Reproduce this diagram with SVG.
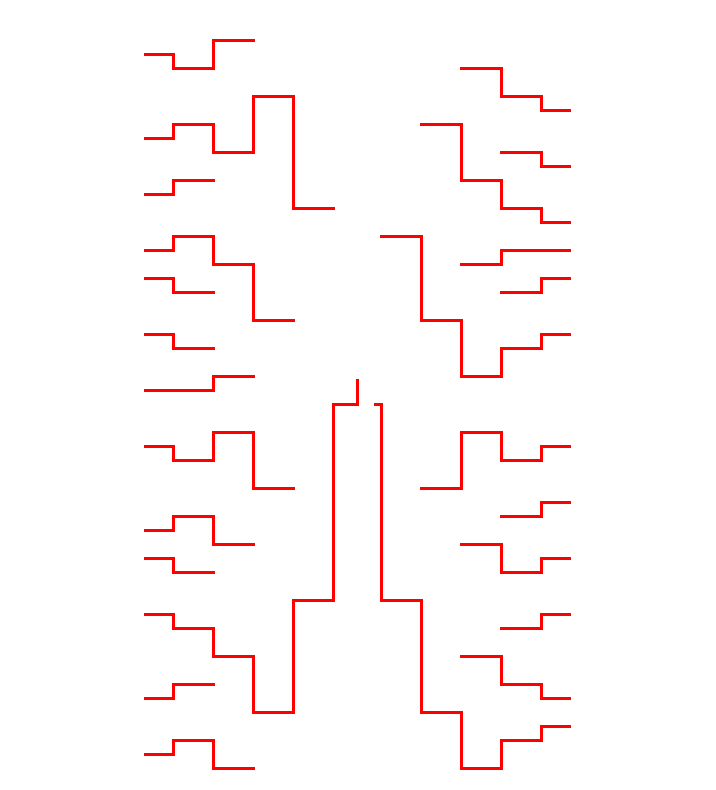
<svg xmlns="http://www.w3.org/2000/svg" width="716" height="790" viewBox="0 0 716 790">
<style>
.e{fill:none;stroke:#ff0000;stroke-width:3;stroke-linejoin:miter;stroke-linecap:butt}
</style>
<rect width="716" height="790" fill="#ffffff"/>
<g id="connectors">
<g id="left">
<path class="e" d="M144 54.5 H173.5 V68.5 H213.5 V40.5 H255"/>
<path class="e" d="M144 138.5 H173.5 V124.5 H213.5 V152.5 H253.5 V96.5 H293.5 V208.5 H335"/>
<path class="e" d="M144 194.5 H173.5 V180.5 H215"/>
<path class="e" d="M144 250.5 H173.5 V236.5 H213.5 V264.5 H253.5 V320.5 H295"/>
<path class="e" d="M144 278.5 H173.5 V292.5 H215"/>
<path class="e" d="M144 334.5 H173.5 V348.5 H215"/>
<path class="e" d="M144 390.5 H213.5 V376.5 H255"/>
<path class="e" d="M144 446.5 H173.5 V460.5 H213.5 V432.5 H253.5 V488.5 H295"/>
<path class="e" d="M144 530.5 H173.5 V516.5 H213.5 V544.5 H255"/>
<path class="e" d="M144 558.5 H173.5 V572.5 H215"/>
<path class="e" d="M144 614.5 H173.5 V628.5 H213.5 V656.5 H253.5 V712.5 H293.5 V600.5 H333.5 V404.5 H357.5 V379"/>
<path class="e" d="M144 698.5 H173.5 V684.5 H215"/>
<path class="e" d="M144 754.5 H173.5 V740.5 H213.5 V768.5 H255"/>
</g>
<g id="right">
<path class="e" d="M460 68.5 H501.5 V96.5 H541.5 V110.5 H571"/>
<path class="e" d="M420 124.5 H461.5 V180.5 H501.5 V208.5 H541.5 V222.5 H571"/>
<path class="e" d="M500 152.5 H541.5 V166.5 H571"/>
<path class="e" d="M380 236.5 H421.5 V320.5 H461.5 V376.5 H501.5 V348.5 H541.5 V334.5 H571"/>
<path class="e" d="M460 264.5 H501.5 V250.5 H571"/>
<path class="e" d="M500 292.5 H541.5 V278.5 H571"/>
<path class="e" d="M420 488.5 H461.5 V432.5 H501.5 V460.5 H541.5 V446.5 H571"/>
<path class="e" d="M500 516.5 H541.5 V502.5 H571"/>
<path class="e" d="M460 544.5 H501.5 V572.5 H541.5 V558.5 H571"/>
<path class="e" d="M374 404.5 H381.5 V600.5 H421.5 V712.5 H461.5 V768.5 H501.5 V740.5 H541.5 V726.5 H571"/>
<path class="e" d="M500 628.5 H541.5 V614.5 H571"/>
<path class="e" d="M460 656.5 H501.5 V684.5 H541.5 V698.5 H571"/>
</g>
</g>
</svg>
